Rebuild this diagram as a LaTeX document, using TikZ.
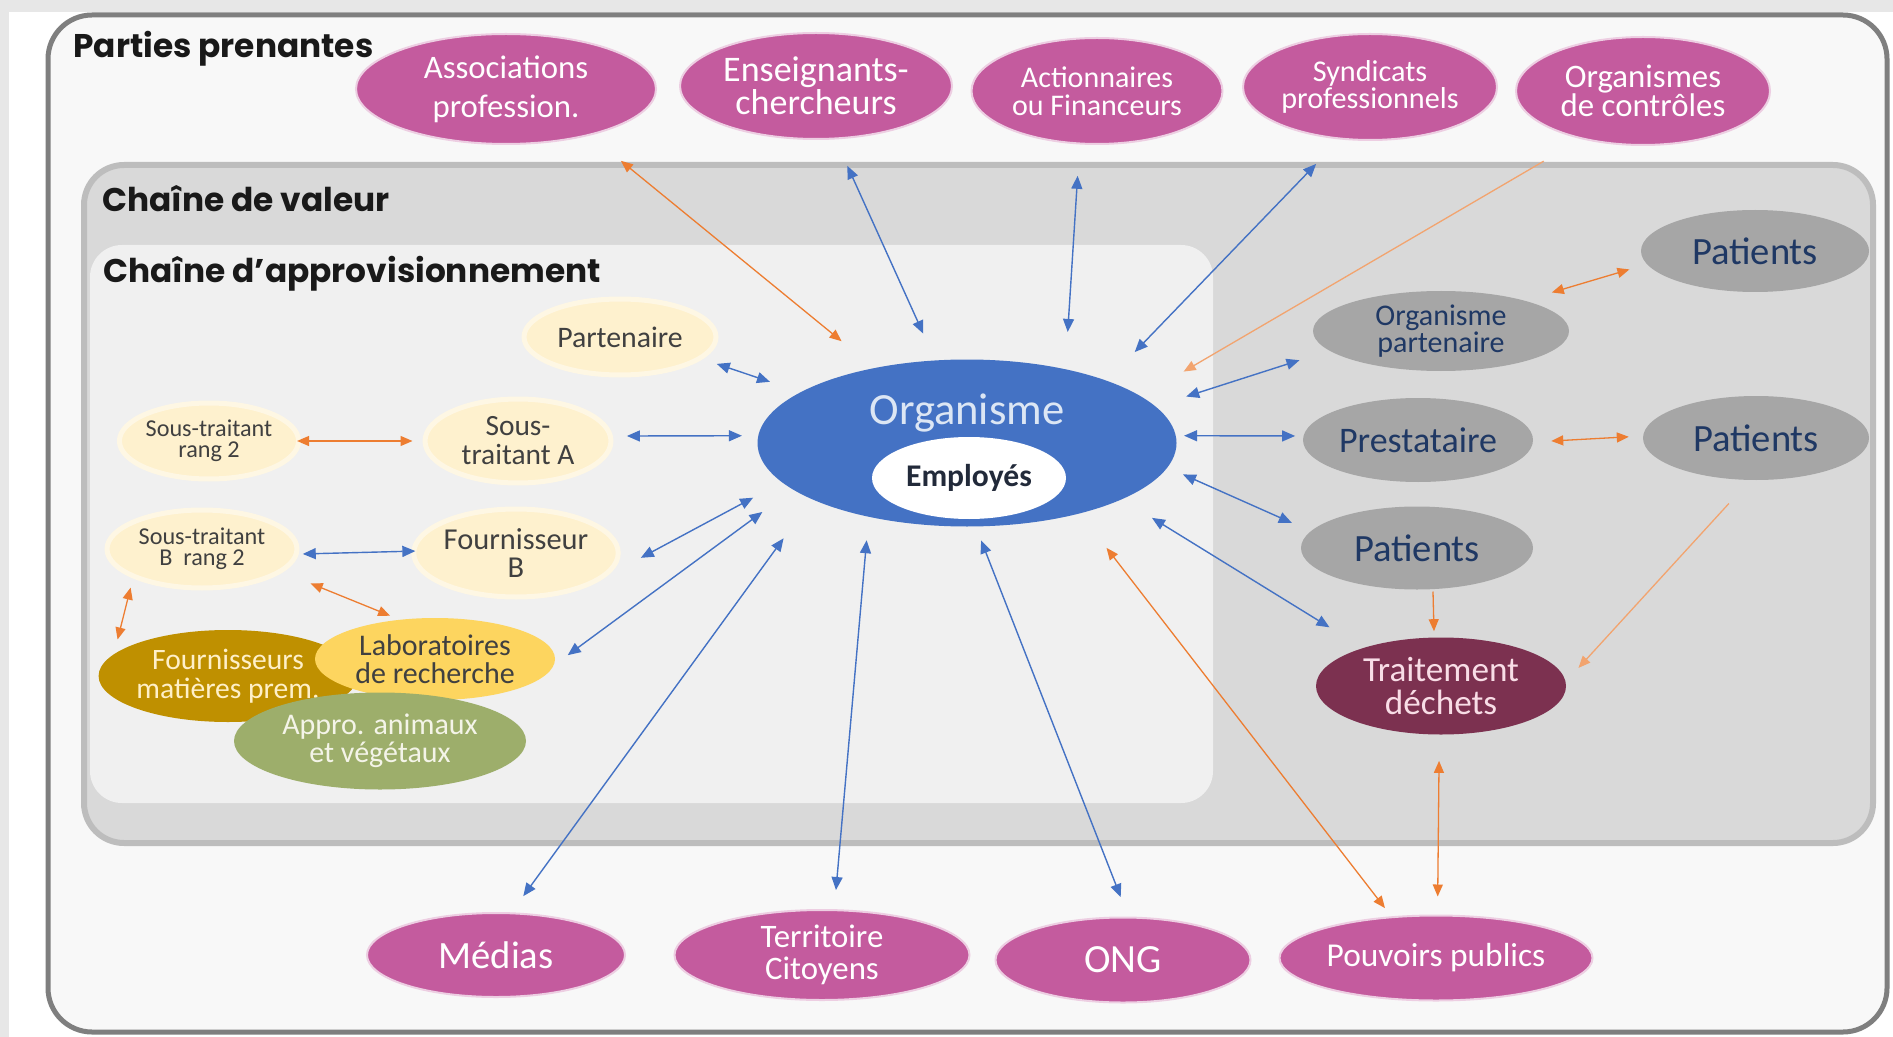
\documentclass[tikz,border=0pt]{standalone}
\usepackage{fontspec}
\setmainfont{Carlito}
\newfontfamily\headfont{Poppins}
\usetikzlibrary{shapes.geometric, arrows.meta}
\definecolor{canvas}{HTML}{E7E7E7}
\definecolor{pagefill}{HTML}{F8F8F8}
\definecolor{framegray}{HTML}{7F7F7F}
\definecolor{valuefill}{HTML}{D9D9D9}
\definecolor{valueedge}{HTML}{BDBDBD}
\definecolor{supplyfill}{HTML}{F0F0F0}
\definecolor{pinkfill}{HTML}{C45B9E}
\definecolor{orgblue}{HTML}{4472C4}
\definecolor{orgtext}{HTML}{DCE6F4}
\definecolor{emptext}{HTML}{222A3A}
\definecolor{creamfill}{HTML}{FEF1CE}
\definecolor{darktext}{HTML}{404040}
\definecolor{goldfill}{HTML}{BF9000}
\definecolor{goldtext}{HTML}{FFF0C8}
\definecolor{labfill}{HTML}{FDD55F}
\definecolor{olivefill}{HTML}{9DAE6B}
\definecolor{olivetext}{HTML}{F4F4E8}
\definecolor{grayfill}{HTML}{A6A6A6}
\definecolor{navytext}{HTML}{1F3864}
\definecolor{wastefill}{HTML}{7C3150}
\definecolor{wastetext}{HTML}{F8DDE6}
\definecolor{linkblue}{HTML}{4472C4}
\definecolor{floworange}{HTML}{ED7D31}
\newcommand{\fsz}[2]{\fontsize{#1pt}{#2pt}\selectfont}
\tikzstyle{heading} = [anchor=base west, inner sep=0pt, text=black!90, font=\headfont\bfseries\fsz{16.4}{17}]
\tikzstyle{stake} = [ellipse, inner sep=0pt, align=center, fill=pinkfill, draw=pinkfill!30!white, line width=1pt, text=white]
\tikzstyle{supply} = [ellipse, inner sep=0pt, align=center, fill=creamfill, draw=creamfill!55!white, line width=2.5pt, text=darktext]
\tikzstyle{value} = [ellipse, inner sep=0pt, align=center, fill=grayfill, text=navytext]
\tikzstyle{blob} = [ellipse, inner sep=0pt, align=center]
\tikzstyle{edge} = [<->, >={Triangle[length=6.5pt, width=5.5pt]}, draw=linkblue, line width=0.7pt]
\tikzstyle{flow} = [<->, >={Triangle[length=6pt, width=5pt]}, draw=floworange, line width=0.65pt]
\tikzset{dims/.style 2 args={minimum width=#1, minimum height=#2}}
\begin{document}
\begin{tikzpicture}[x=0.5pt, y=-0.5pt]

\useasboundingbox (0,0) rectangle (1893,1037);
\fill [canvas] (0,0) rectangle (1893,1037);
\fill [white] (9,12) rectangle (1893,1037);
\draw [framegray, fill=pagefill, line width=2.5pt, rounded corners=22pt] (48,15) rectangle (1887,1032);
\draw [valueedge, fill=valuefill, line width=3pt, rounded corners=20pt] (84,165) rectangle (1873,843);
\fill [supplyfill, rounded corners=16pt] (90,245) rectangle (1213,803);

\node (h1) [heading] at (73,58) {Parties prenantes};
\node (h2) [heading] at (102,212) {Chaîne de valeur};
\node (h3) [heading] at (103,283) {Chaîne d’approvisionnement};

\node (0) [blob, fill=orgblue, dims={209.5pt}{83.5pt}, label={[text=orgtext, font=\fsz{22.3}{24}, yshift=15pt]center:Organisme}] at (967,443) {};
\node (1) [blob, fill=white, text=emptext, dims={97pt}{41pt}, font=\bfseries\fsz{15.8}{17}] at (969,478) {Employés};

\node (2) [stake, dims={150pt}{55pt}, font=\fsz{16.4}{19.5}] at (506,89) {Associations\\profession.};
\node (3) [stake, dims={136pt}{53pt}, font=\fsz{18}{16.5}] at (816,86) {Enseignants-\\chercheurs};
\node (4) [stake, dims={125.5pt}{53pt}, font=\fsz{15}{14}] at (1097,91) {Actionnaires\\ou Financeurs};
\node (5) [stake, dims={127pt}{53pt}, font=\fsz{15.1}{13.5}] at (1370,87) {Syndicats\\professionnels};
\node (6) [stake, dims={127pt}{54pt}, font=\fsz{16.4}{14.5}] at (1643,91) {Organismes\\de contrôles};
\node (7) [stake, dims={129pt}{42pt}, font=\fsz{19.3}{20}] at (496,955) {Médias};
\node (8) [stake, dims={147.5pt}{45pt}, font=\fsz{16.4}{15.7}] at (822,955) {Territoire\\Citoyens};
\node (9) [stake, dims={127.5pt}{42.5pt}, font=\fsz{20}{21}] at (1123,960) {ONG};
\node (10) [stake, dims={156.5pt}{42.5pt}, font=\fsz{16.7}{18}] at (1436,958) {Pouvoirs publics};

\node (11) [supply, dims={96pt}{38pt}, font=\fsz{14.9}{15}] at (620,337) {Partenaire};
\node (12) [supply, dims={88pt}{38pt}, font=\fsz{12.1}{10.3}] at (209,441) {Sous-traitant\\rang 2};
\node (13) [supply, dims={93pt}{42pt}, font=\fsz{14.7}{14.5}] at (518,441) {Sous-\\traitant A};
\node (14) [supply, dims={95pt}{39pt}, font=\fsz{12.1}{10.3}] at (202,549) {Sous-traitant\\B\ \ rang 2};
\node (15) [supply, dims={97.5pt}{44pt}, font=\fsz{15.2}{14}] at (516,553) {Fournisseur\\B};
\node (16) [blob, fill=goldfill, text=goldtext, dims={126pt}{46pt}, font=\fsz{14.8}{14.5}] at (228,676) {Fournisseurs\\matières prem.};
\node (17) [blob, fill=labfill, text=darktext, dims={120pt}{41pt}, font=\fsz{15}{14}] at (435,659) {Laboratoires\\de recherche};
\node (18) [blob, fill=olivefill, text=olivetext, dims={146pt}{48.5pt}, font=\fsz{15}{14}] at (380,741) {Appro. animaux\\et végétaux};

\node (19) [value, dims={114pt}{41pt}, font=\fsz{19.3}{20}] at (1755,251) {Patients};
\node (20) [value, dims={128pt}{40pt}, font=\fsz{15}{13.3}] at (1441,331) {Organisme\\partenaire};
\node (21) [value, dims={115pt}{42pt}, font=\fsz{18}{19}] at (1418,440) {Prestataire};
\node (22) [value, dims={113pt}{42pt}, font=\fsz{19.3}{20}] at (1756,438) {Patients};
\node (23) [value, dims={116pt}{41.5pt}, font=\fsz{19.3}{20}] at (1417,548) {Patients};
\node (24) [blob, fill=wastefill, text=wastetext, dims={125pt}{48.5pt}, font=\fsz{17.6}{16.3}] at (1441,686) {Traitement\\déchets};

\draw [edge, shorten <=14.5pt, shorten >=14.5pt] (3.-70) -- (0.111);
\draw [edge, shorten <=15.7pt, shorten >=18.5pt] (4.-108.7) -- (0.37.5);
\draw [edge, shorten <=17pt, shorten >=19.8pt] (5.-120.4) -- (0.24.5);
\draw [edge, shorten <=7.5pt, shorten >=16pt] (11.-15.5) -- (0.163);
\draw [edge, shorten <=7pt, shorten >=8pt] (13.3.1) -- (0.178.1);
\draw [edge, shorten <=19pt, shorten >=16.2pt] (15.-14.9) -- (0.-168);
\draw [edge, shorten <=8.5pt, shorten >=18.8pt] (17.-3.5) -- (0.-165.9);
\draw [edge, shorten <=10pt, shorten >=24pt] (7.70) -- (0.-160);
\draw [edge, shorten <=9.6pt, shorten >=11.6pt] (8.75.9) -- (0.-143);
\draw [edge, shorten <=10.5pt, shorten >=7.3pt] (9.83.8) -- (0.-84);
\draw [edge, shorten <=16pt, shorten >=15.5pt] (0.11) -- (20.-170);
\draw [edge, shorten <=4pt, shorten >=4pt] (0.2.4) -- (21.178);
\draw [edge, shorten <=8.4pt, shorten >=10.2pt] (0.-7.2) -- (23.171.7);
\draw [edge, shorten <=17.5pt, shorten >=19.5pt] (0.-20) -- (24.154);
\draw [edge, shorten <=2pt, shorten >=-2pt] (14.-3.3) -- (15.179);

\draw [flow, shorten <=20pt, shorten >=21pt] (2.-29.6) -- (0.141);
\draw [flow, ->, draw=floworange!70, shorten <=21.8pt, shorten >=24.5pt] (6.-142.9) -- (0.15.8);
\draw [flow, shorten <=9pt, shorten >=14pt] (19.-173) -- (20.20);
\draw [flow, shorten <=9pt, shorten >=7pt] (21.-1.3) -- (22.179);
\draw [flow, ->, draw=floworange!70, shorten <=15.7pt, shorten >=9.3pt] (22.-98) -- (24.2);
\draw [flow, ->, shorten <=1pt, shorten >=3pt] (23.-69) -- (24.98);
\draw [flow, shorten <=13pt, shorten >=9pt] (24.-92) -- (10.88);
\draw [flow, shorten <=21.6pt, shorten >=5.2pt] (0.-32.7) -- (10.137);
\draw [flow, shorten <=-2pt, shorten >=5pt] (12.0) -- (13.180);
\draw [flow, shorten <=15pt, shorten >=5pt] (14.-16) -- (17.132.5);
\draw [flow, shorten <=4.8pt, shorten >=7.4pt] (14.-157.5) -- (16.169.6);

\end{tikzpicture}
\end{document}
